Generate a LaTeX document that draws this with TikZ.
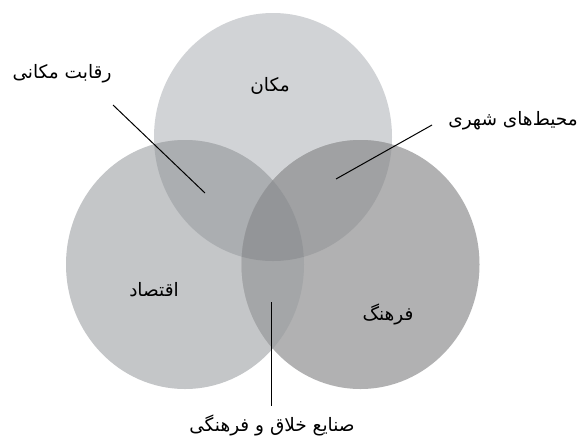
\documentclass[tikz,border=0pt]{standalone}
\usepackage{fontspec}
\newfontfamily\arabicfont[Script=Arabic]{DejaVu Sans}
\TeXXeTstate=1
\definecolor{cTop}{HTML}{D1D3D6}
\definecolor{cLeft}{HTML}{C4C6C8}
\definecolor{cRight}{HTML}{B1B1B2}
\definecolor{cTL}{HTML}{ABAEB1}
\definecolor{cTR}{HTML}{A0A1A3}
\definecolor{cLR}{HTML}{A4A6A8}
\definecolor{cTLR}{HTML}{939598}
\tikzset{
  lbl/.style={font=\arabicfont\fontsize{18.5}{22}\selectfont, inner sep=0pt, text=black},
  lead/.style={draw=black, line width=1pt}
}
\newcommand{\ctop}{(273,137) ellipse [x radius=119, y radius=124]}
\newcommand{\cleft}{(185,264.5) ellipse [x radius=119, y radius=124.5]}
\newcommand{\cright}{(360.5,264.5) ellipse [x radius=119, y radius=124.5]}
\begin{document}
\begin{tikzpicture}[x=1pt,y=-1pt]
\useasboundingbox (0,0) rectangle (586,437);
\fill[white] (0,0) rectangle (586,437);
% single circles
\fill[cTop] \ctop;
\fill[cLeft] \cleft;
\fill[cRight] \cright;
% pairwise overlaps
\begin{scope}\clip \ctop; \fill[cTL] \cleft; \fill[cTR] \cright; \end{scope}
\begin{scope}\clip \cleft; \fill[cLR] \cright; \end{scope}
\begin{scope}\clip \ctop; \clip \cleft; \fill[cTLR] \cright; \end{scope}
% labels
\node[lbl] (makan) at (270,86) {\beginR مکان\endR};
\node[lbl] (eqtesad) at (154,290) {\beginR اقتصاد\endR};
\node[lbl] (farhang) at (388,314) {\beginR فرهنگ\endR};
\node[lbl] (reqabat) at (62,74) {\beginR رقابت مکانی\endR};
\node[lbl] (mohit) at (513,121) {\beginR محیط‌های شهری\endR};
\node[lbl] (sanaye) at (272,425) {\beginR صنایع خلاق و فرهنگی\endR};
% leader lines
\coordinate (a1) at (113,105);
\coordinate (a2) at (205,193);
\coordinate (b1) at (432,125);
\coordinate (b2) at (336,179);
\coordinate (c1) at (271,302);
\coordinate (c2) at (271,406);
\draw[lead] (a1) -- (a2);
\draw[lead] (b1) -- (b2);
\draw[lead] (c1) -- (c2);
\end{tikzpicture}
\end{document}
